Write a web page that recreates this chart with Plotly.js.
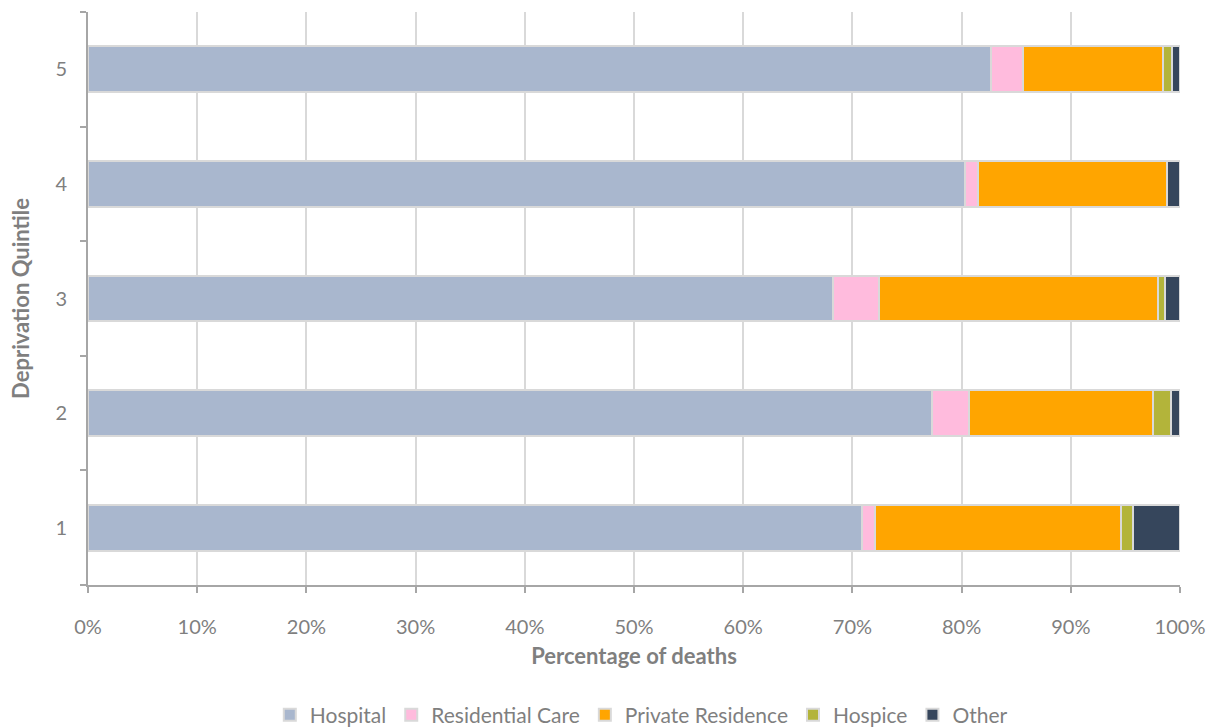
<!DOCTYPE html>
<html>
<head>
<meta charset="utf-8">
<script src="https://cdn.plot.ly/plotly-3.0.1.min.js"></script>
<style>html,body{margin:0;padding:0;background:#fff;}#chart{width:1210px;height:727px;}</style>
</head>
<body>
<div id="chart"></div>
<script>
const quintiles = ["1", "2", "3", "4", "5"];
const hospital = [70.9, 77.3, 68.2, 80.3, 82.7];
const residentialCare = [1.2, 3.4, 4.2, 1.2, 2.9];
const privateResidence = [22.5, 16.8, 25.55, 17.3, 12.8];
const hospice = [1.1, 1.7, 0.7, 0.0, 0.9];
const other = [4.3, 0.8, 1.35, 1.2, 0.7];
const xTickVals = [0, 10, 20, 30, 40, 50, 60, 70, 80, 90, 100];
const xTickText = xTickVals.map(v => v + "%");

const seriesNames = ["Hospital", "Residential Care", "Private Residence", "Hospice", "Other"];
const seriesValues = [hospital, residentialCare, privateResidence, hospice, other];
const seriesColors = ["#A9B7CE", "#FFBBDD", "#FFA500", "#B3B43A", "#36465C"];

const traces = seriesNames.map((name, i) => ({
  type: "bar",
  orientation: "h",
  name: name,
  y: quintiles,
  x: seriesValues[i],
  marker: { color: seriesColors[i], line: { color: "#D9D9D9", width: 2 } },
  hoverinfo: "x+name"
}));

const font = "Lato, 'Open Sans', sans-serif";
const layout = {
  width: 1210,
  height: 727,
  margin: { l: 88, r: 30, t: 12, b: 142, autoexpand: false },
  paper_bgcolor: "#ffffff",
  plot_bgcolor: "#ffffff",
  barmode: "stack",
  bargap: 0.6,
  font: { family: font, color: "#7F7F7F", size: 18 },
  showlegend: true,
  legend: {
    orientation: "h",
    x: 0.53, xanchor: "center", xref: "container",
    y: 0.0165, yanchor: "middle", yref: "container",
    font: { family: font, size: 21, color: "#7F7F7F" },
    traceorder: "normal",
    itemwidth: 30
  },
  xaxis: {
    range: [0, 100],
    tickvals: xTickVals,
    ticktext: xTickText,
    showgrid: true,
    gridcolor: "#D9D9D9",
    gridwidth: 2,
    zeroline: false,
    showline: true,
    linecolor: "#A6A6A6",
    linewidth: 2,
    ticks: "outside",
    ticklen: 6,
    tickwidth: 2,
    tickcolor: "#A6A6A6",
    ticklabelstandoff: 17,
    tickfont: { family: font, size: 20, color: "#7F7F7F" },
    title: { text: "<b>Percentage of deaths</b>", font: { family: font, size: 22, color: "#7F7F7F" }, standoff: 12 },
    automargin: false,
    fixedrange: true
  },
  yaxis: {
    type: "category",
    showgrid: false,
    zeroline: false,
    showline: true,
    linecolor: "#A6A6A6",
    linewidth: 2,
    ticks: "outside",
    tickson: "boundaries",
    ticklen: 6,
    tickwidth: 2,
    tickcolor: "#A6A6A6",
    ticklabelstandoff: 15,
    tickfont: { family: font, size: 20, color: "#7F7F7F" },
    title: { text: "<b>Deprivation Quintile</b>", font: { family: font, size: 22, color: "#7F7F7F" }, standoff: 20 },
    automargin: false,
    fixedrange: true
  }
};

Plotly.newPlot("chart", traces, layout, { displayModeBar: false, staticPlot: true });
</script>
</body>
</html>
